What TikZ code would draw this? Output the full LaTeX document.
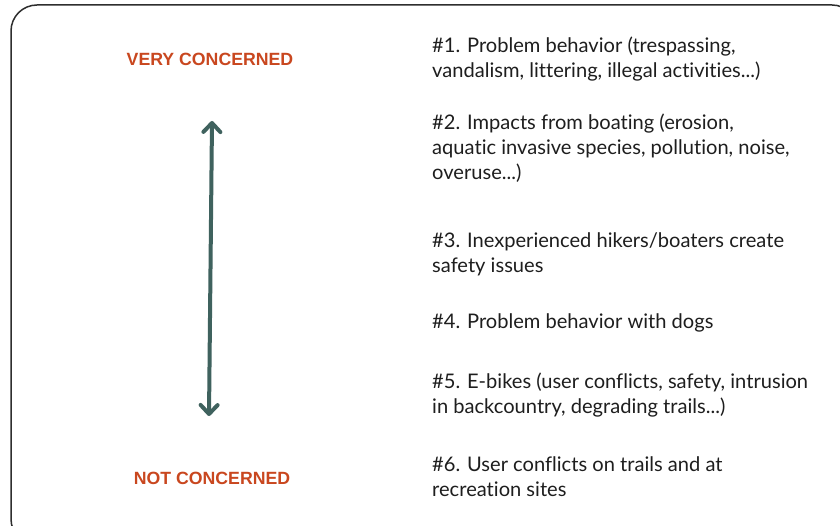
\documentclass[tikz,border=0pt]{standalone}
\usepackage{fontspec}
\setmainfont{Lato}[Ligatures=NoCommon]
\newfontfamily\headfont{Liberation Sans}
\usetikzlibrary{arrows.meta}
\definecolor{concern}{HTML}{C9471F}
\definecolor{teal}{HTML}{3F625E}
\definecolor{frame}{HTML}{2E2E2E}
\definecolor{ink}{HTML}{1E1E1E}
\tikzset{
  heading/.style={font=\headfont\bfseries\fontsize{17.7}{20}\selectfont, text=concern, inner sep=0pt},
  item/.style={font=\fontsize{20.1}{25}\selectfont, text=ink, anchor=base west, align=left, inner sep=0pt},
  scalearrow/.style={draw=teal, line width=4pt, line cap=round,
    {Straight Barb[round,length=9pt,width=17pt]}-{Straight Barb[round,length=9pt,width=17pt]}}
}
\begin{document}
\begin{tikzpicture}[x=1pt,y=-1pt]
\useasboundingbox (0,0) rectangle (840,526);
\fill[white] (0,0) rectangle (840,526);
\begin{scope}
\clip (0,0) rectangle (840,526);
\draw[frame, line width=1.5pt, rounded corners=26pt] (11,5) rectangle (858,545);
\end{scope}
\node[heading] (very) at (210,59) {VERY CONCERNED};
\node[heading] (notc) at (212,478) {NOT CONCERNED};
\coordinate (top) at (212,121);
\coordinate (bot) at (209,416);
\draw[scalearrow] (top) -- (bot);
% base anchor of a multi-line node = baseline of its last line
\node[item] (i1) at (432,78) {\#1. Problem behavior (trespassing,\\vandalism, littering, illegal activities...)};
\node[item] (i2) at (432,180) {\#2. Impacts from boating (erosion,\\aquatic invasive species, pollution, noise,\\overuse...)};
\node[item] (i3) at (432,273) {\#3. Inexperienced hikers/boaters create\\safety issues};
\node[item] (i4) at (432,328) {\#4. Problem behavior with dogs};
\node[item] (i5) at (432,413) {\#5. E-bikes (user conflicts, safety, intrusion\\in backcountry, degrading trails...)};
\node[item] (i6) at (432,496) {\#6. User conflicts on trails and at\\recreation sites};
\end{tikzpicture}
\end{document}
